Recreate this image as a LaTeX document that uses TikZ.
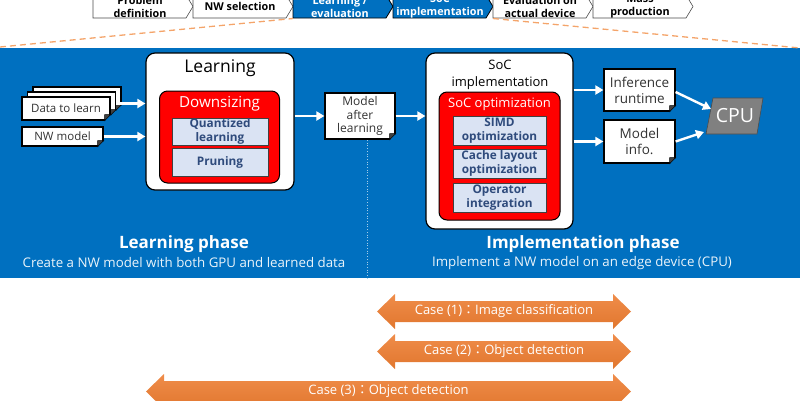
\documentclass[tikz,border=0pt]{standalone}
\usepackage{fontspec}
\setmainfont{Open Sans}
\newfontfamily\cjk{Noto Sans CJK JP}
\usetikzlibrary{arrows.meta,positioning}

\definecolor{panelblue}{HTML}{0070C0}
\definecolor{dashorange}{HTML}{F4A46A}
\definecolor{caseorange}{HTML}{ED7D31}
\definecolor{subfill}{HTML}{DAE3F3}
\definecolor{subtext}{HTML}{2F4B7C}
\definecolor{cpugray}{HTML}{808080}

\newcommand\fsz[2]{\fontsize{#1}{#2}\selectfont}

% folded corner of a document node
\newcommand\docfold[1]{%
  \fill[panelblue] (#1.south east) +(-6,0) -- +(0,-6) -- +(0.8,0.8) -- cycle;
  \filldraw[fill=black!75, draw=black, line width=0.6pt] (#1.south east) +(-6,0) -- +(0,-6) -- +(-6,-6) -- cycle;}

% double arrow for a case: name, left x, right x, y, text
\newcommand\casearrow[5]{%
  \shade[top color=caseorange!88!white, bottom color=caseorange!95!black]
    (#2,#4) -- ++(18,-17.5) -- ++(0,7) -- (#3-18,#4-10.5) -- ++(0,-7) -- (#3,#4)
    -- ++(-18,17.5) -- ++(0,-7) -- (#2+18,#4+10.5) -- ++(0,7) -- cycle;
  \node[casetext] (#1) at ({(#2+#3)/2},#4) {#5};}

\tikzset{
  stepwhite/.style={draw=black!70, fill=white, line width=0.6pt, text=black},
  stepblue/.style={draw=black, fill=panelblue, line width=0.8pt, text=white},
  steptext/.style={font=\bfseries\fsz{10.8}{13}, align=center, draw=none, fill=none},
  outerbox/.style={draw=black, fill=white, line width=1.2pt, rounded corners=9pt},
  redbox/.style={draw=black, fill=red, line width=1pt, rounded corners=8pt},
  subbox/.style={draw=black!75, fill=subfill, line width=0.8pt, text=subtext,
    font=\bfseries\fsz{11.8}{13.5}, align=center, inner sep=0pt},
  docbox/.style={draw=black, fill=white, line width=1.2pt, align=center, inner sep=0pt,
    text=black!80},
  wharrow/.style={draw=white, line width=2.4pt, -{Triangle[length=8pt,width=9pt]}},
  phasetitle/.style={text=white, font=\bfseries\fsz{17}{20}},
  phasedesc/.style={text=white!92!panelblue, font=\fsz{13.3}{15}},
  casetext/.style={text=white, font=\fsz{13}{15}},
}

\begin{document}
\begin{tikzpicture}[x=1pt,y=-1pt]
  \useasboundingbox (0,0) rectangle (800,400);
  \clip (0,0) rectangle (800,400);

  % process steps
  \foreach \x/\lbl/\sty [count=\i] in {93/{Problem\\definition}/stepwhite,
      193/{NW selection}/stepwhite, 293/{Learning /\\evaluation}/stepblue,
      393/{SoC\\implementation}/stepblue, 493/{Evaluation on\\actual device}/stepwhite,
      593/{Mass\\production}/stepwhite}{
    \draw[\sty] (\x,-5) -- ++(93,0) -- ++(7,11.5) -- ++(-7,11.5) -- ++(-93,0) -- cycle;
    \node[\sty, steptext] (step\i) at (\x+47,6.5) {\lbl};
  }

  % panel and zoom lines
  \fill[panelblue] (0,48) rectangle (800,278);
  \draw[dashorange, line width=1.3pt, dash pattern=on 6pt off 4pt] (0,47) -- (293,18.5);
  \draw[dashorange, line width=1.3pt, dash pattern=on 6pt off 4pt] (493,18.5) -- (800,48);

  % learning side
  \node[outerbox, minimum width=148, minimum height=137] (learn) at (220,121.5) {};
  \node[font=\fsz{17.5}{20}] (learntitle) at (220,68) {Learning};
  \node[redbox, minimum width=120, minimum height=92] (down) at (219.5,137) {};
  \node[text=white, font=\fsz{15.2}{17}] (downtitle) at (219.5,104) {Downsizing};
  \node[subbox, minimum width=96, minimum height=27] (quant) at (220,131.5) {Quantized\\learning};
  \node[subbox, minimum width=96, minimum height=28] (prune) at (220,162) {Pruning};

  \node[docbox, minimum width=88, minimum height=23] (data3) at (77,98.5) {};
  \docfold{data3}
  \node[docbox, minimum width=88, minimum height=23] (data2) at (71.5,103.5) {};
  \docfold{data2}
  \node[docbox, minimum width=88, minimum height=23, font=\fsz{11.5}{13}] (data) at (66,108.5) {Data to learn};
  \docfold{data}
  \node[docbox, minimum width=81, minimum height=19, font=\fsz{11.5}{13}] (nwmodel) at (62.5,136.5) {NW model};
  \docfold{nwmodel}

  \node[docbox, minimum width=70, minimum height=46, font=\fsz{12}{13.5}] (after) at (360,116) {Model\\after\\learning};
  \docfold{after}

  \draw[wharrow] (data2.east) -- (data2.east -| learn.west);
  \draw[wharrow] (nwmodel.east) -- (nwmodel.east -| learn.west);
  \draw[wharrow] (learn.east |- after.west) -- (after.west);

  % implementation side
  \node[outerbox, minimum width=147, minimum height=176] (soc) at (499.5,141) {};
  \node[font=\fsz{13}{17}, align=center] (soctitle) at (500,74.5) {SoC\\implementation};
  \node[redbox, minimum width=121, minimum height=128] (socopt) at (499.5,156) {};
  \node[text=white, font=\fsz{13}{15}] (socopttitle) at (499.5,104) {SoC optimization};
  \node[subbox, minimum width=93, minimum height=29] (simd) at (499.5,130.5) {SIMD\\optimization};
  \node[subbox, minimum width=93, minimum height=29] (cache) at (499.5,163.5) {Cache layout\\optimization};
  \node[subbox, minimum width=93, minimum height=29] (oper) at (499.5,197.5) {Operator\\integration};

  \node[docbox, minimum width=71, minimum height=42, font=\fsz{13.5}{16}] (infer) at (639.5,90) {Inference\\runtime};
  \docfold{infer}
  \node[docbox, minimum width=71, minimum height=43, font=\fsz{13.5}{16.5}] (minfo) at (639.5,141.5) {Model\\info.};
  \docfold{minfo}

  \draw[draw=black!70, fill=cpugray, line width=0.6pt] (713,98) -- (763,98) -- (757,134) -- (706,134) -- cycle;
  \node[text=white, font=\fsz{19.5}{22}] (cpu) at (735,116) {CPU};
  \coordinate (cpuin1) at (711,109);
  \coordinate (cpuin2) at (704,132);

  \draw[wharrow] (after.east) -- (after.east -| soc.west);
  \draw[wharrow] (soc.east |- infer.west) -- (infer.west);
  \draw[wharrow] (soc.east |- minfo.west) -- (minfo.west);
  \draw[wharrow] ([yshift=-2pt]infer.east) -- (cpuin1);
  \draw[wharrow] (minfo.east) -- (cpuin2);

  % divider
  \coordinate (divtop) at (367,140);
  \coordinate (divbot) at (367,278);
  \draw[white!65!panelblue, dotted, line width=0.7pt] (divtop) -- (divbot);

  \node[phasetitle] (lphase) at (184,244) {Learning phase};
  \node[phasedesc] (ldesc) at (184,263) {Create a NW model with both GPU and learned data};
  \node[phasetitle] (iphase) at (583,244) {Implementation phase};
  \node[phasedesc] (idesc) at (582,263) {Implement a NW model on an edge device (CPU)};

  % cases
  \casearrow{case1}{377}{631}{311.5}{Case (1){\cjk ：}Image classification}
  \casearrow{case2}{377}{631}{351.5}{Case (2){\cjk ：}Object detection}
  \casearrow{case3}{146}{631}{391.5}{Case (3){\cjk ：}Object detection}
\end{tikzpicture}
\end{document}
